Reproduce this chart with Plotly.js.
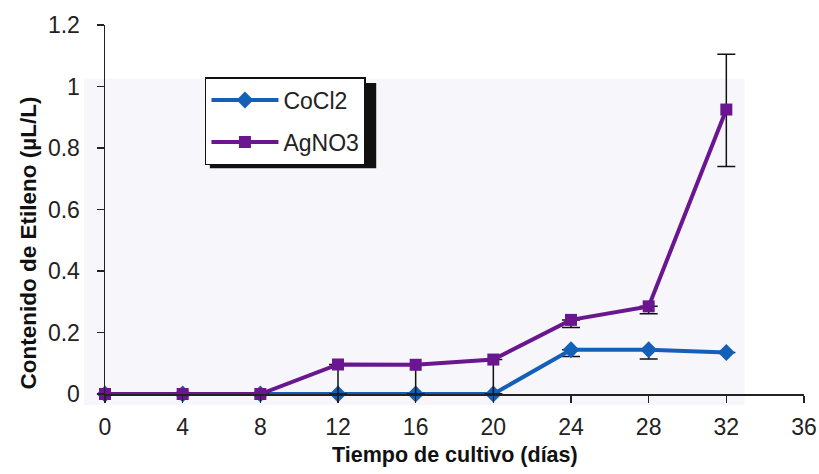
<!DOCTYPE html>
<html>
<head>
<meta charset="utf-8">
<script src="https://cdn.plot.ly/plotly-3.0.1.min.js"></script>
<style>html,body{margin:0;padding:0;background:#fff;}#chart{width:819px;height:474px;}</style>
</head>
<body>
<div id="chart"></div>
<script>
const days = [0, 4, 8, 12, 16, 20, 24, 28, 32];
const cocl2 = [0, 0, 0, 0, 0, 0, 0.144, 0.144, 0.135];
const cocl2ErrPlus = [0, 0, 0, 0, 0, 0, 0, 0, 0];
const cocl2ErrMinus = [0, 0, 0, 0, 0, 0, 0.022, 0.03, 0];
const agno3 = [0, 0, 0, 0.096, 0.095, 0.112, 0.241, 0.285, 0.925];
const agno3ErrPlus = [0, 0, 0, 0, 0, 0, 0, 0, 0.18];
const agno3ErrMinus = [0, 0, 0, 0.096, 0.095, 0.112, 0.025, 0.024, 0.185];
const xTicks = [0, 4, 8, 12, 16, 20, 24, 28, 32, 36];
const yTicks = [0, 0.2, 0.4, 0.6, 0.8, 1, 1.2];
const yTickText = ['0', '0.2', '0.4', '0.6', '0.8', '1', '1.2'];

const font = 'Liberation Sans, Arial, sans-serif';

const traces = [
  {
    x: days, y: cocl2, name: 'CoCl2', type: 'scatter', mode: 'lines+markers',
    legendgroup: 'a', cliponaxis: false,
    line: {color: '#1460b8', width: 4},
    marker: {symbol: 'diamond', size: 13, color: '#1460b8'},
    error_y: {type: 'data', symmetric: false, array: cocl2ErrPlus, arrayminus: cocl2ErrMinus,
      color: '#111', thickness: 1.5, width: 9}
  },
  {
    x: days, y: agno3, name: 'AgNO3', type: 'scatter', mode: 'lines+markers',
    legendgroup: 'b', cliponaxis: false,
    line: {color: '#6a1690', width: 4},
    marker: {symbol: 'square', size: 12, color: '#6a1690'},
    error_y: {type: 'data', symmetric: false, array: agno3ErrPlus, arrayminus: agno3ErrMinus,
      color: '#111', thickness: 1.5, width: 9}
  }
];

const layout = {
  width: 819, height: 474,
  margin: {l: 105, r: 15, t: 25, b: 80},
  paper_bgcolor: '#fff', plot_bgcolor: 'rgba(0,0,0,0)',
  font: {family: font, size: 22, color: '#222'},
  showlegend: true,
  legend: {
    x: 0.143, y: 0.859, xanchor: 'left', yanchor: 'top',
    bgcolor: '#fff', bordercolor: '#111', borderwidth: 1.5,
    font: {family: font, size: 23, color: '#222'},
    tracegroupgap: 9, itemwidth: 67
  },
  xaxis: {
    range: [0, 36], tickvals: xTicks, ticktext: xTicks.map(String),
    showline: true, linecolor: '#222', linewidth: 1.5,
    ticks: 'outside', ticklen: 7, tickcolor: '#222', tickwidth: 1.5,
    showgrid: false, zeroline: false, ticklabelstandoff: 5,
    tickfont: {family: font, size: 23, color: '#222'}
  },
  yaxis: {
    range: [0, 1.2], tickvals: yTicks, ticktext: yTickText,
    showline: true, linecolor: '#222', linewidth: 1.5,
    ticks: 'outside', ticklen: 7, tickcolor: '#222', tickwidth: 1.5,
    showgrid: false, zeroline: false, ticklabelstandoff: 12,
    tickfont: {family: font, size: 23, color: '#222'}
  },
  shapes: [
    {type: 'rect', xref: 'paper', yref: 'paper', layer: 'below',
     x0: -0.03, x1: 0.915, y0: -0.03, y1: 0.855,
     fillcolor: '#f7f6fa', line: {width: 0}},
    {type: 'rect', xref: 'paper', yref: 'paper', layer: 'above',
     x0: 0.150, x1: 0.388, y0: 0.612, y1: 0.843,
     fillcolor: '#111', line: {width: 0}}
  ],
  annotations: [
    {text: '<b>Contenido de Etileno (µL/L)</b>', xref: 'paper', yref: 'paper',
     x: -0.109, y: 0.41, xanchor: 'center', yanchor: 'middle', textangle: -90,
     showarrow: false, font: {family: font, size: 22.5, color: '#111'}},
    {text: '<b>Tiempo de cultivo (días)</b>', xref: 'paper', yref: 'paper',
     x: 0.5, y: -0.165, xanchor: 'center', yanchor: 'middle',
     showarrow: false, font: {family: font, size: 21.5, color: '#111'}}
  ]
};

Plotly.newPlot('chart', traces, layout, {displayModeBar: false, staticPlot: true});
</script>
</body>
</html>
